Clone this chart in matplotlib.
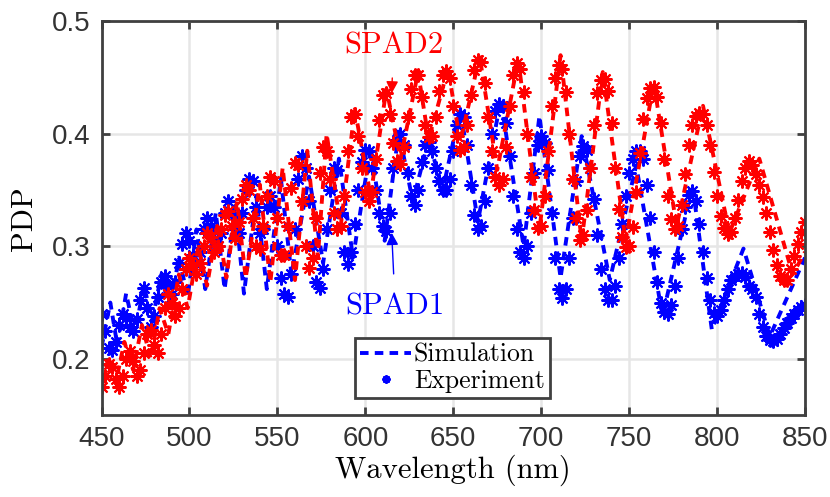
import matplotlib
matplotlib.use("Agg")
import matplotlib.pyplot as plt
import numpy as np

# measured PDP, sampled every 2 nm from 450 to 850 nm
wl_exp = np.arange(450, 852, 2)

spad1_exp = [
    0.240, 0.225, 0.210, 0.208, 0.215, 0.230, 0.240, 0.236, 0.228, 0.225,
    0.235, 0.252, 0.263, 0.245, 0.228, 0.238, 0.255, 0.268, 0.274, 0.265,
    0.258, 0.268, 0.285, 0.302, 0.312, 0.305, 0.292, 0.284, 0.295, 0.315,
    0.325, 0.318, 0.305, 0.300, 0.312, 0.330, 0.340, 0.330, 0.315, 0.312,
    0.330, 0.350, 0.360, 0.358, 0.335, 0.312, 0.315, 0.335, 0.345, 0.335,
    0.300, 0.272, 0.258, 0.255, 0.275, 0.315, 0.360, 0.380, 0.370, 0.340,
    0.300, 0.268, 0.263, 0.280, 0.315, 0.350, 0.370, 0.368, 0.330, 0.295,
    0.284, 0.295, 0.320, 0.350, 0.375, 0.386, 0.385, 0.370, 0.350, 0.330,
    0.318, 0.314, 0.330, 0.370, 0.395, 0.400, 0.390, 0.365, 0.345, 0.337,
    0.350, 0.375, 0.390, 0.393, 0.385, 0.370, 0.358, 0.350, 0.350, 0.360,
    0.385, 0.408, 0.418, 0.415, 0.390, 0.355, 0.328, 0.315, 0.318, 0.340,
    0.370, 0.400, 0.420, 0.427, 0.425, 0.410, 0.380, 0.345, 0.315, 0.295,
    0.290, 0.300, 0.330, 0.365, 0.390, 0.398, 0.392, 0.368, 0.330, 0.290,
    0.262, 0.254, 0.262, 0.290, 0.325, 0.358, 0.380, 0.389, 0.386, 0.370,
    0.342, 0.310, 0.280, 0.262, 0.252, 0.252, 0.265, 0.290, 0.320, 0.345,
    0.365, 0.378, 0.385, 0.385, 0.378, 0.355, 0.325, 0.295, 0.268, 0.250,
    0.242, 0.240, 0.248, 0.265, 0.290, 0.315, 0.335, 0.346, 0.349, 0.340,
    0.320, 0.295, 0.272, 0.252, 0.241, 0.238, 0.243, 0.252, 0.262, 0.270,
    0.274, 0.275, 0.276, 0.273, 0.265, 0.262, 0.255, 0.240, 0.228, 0.220,
    0.217, 0.216, 0.218, 0.222, 0.227, 0.232, 0.236, 0.240, 0.243, 0.246,
    0.248,
]

spad2_exp = [
    0.175, 0.185, 0.195, 0.193, 0.182, 0.175, 0.185, 0.200, 0.207, 0.198,
    0.185, 0.190, 0.205, 0.222, 0.226, 0.212, 0.205, 0.222, 0.245, 0.258,
    0.250, 0.238, 0.245, 0.262, 0.280, 0.290, 0.283, 0.275, 0.285, 0.300,
    0.312, 0.308, 0.295, 0.300, 0.315, 0.328, 0.331, 0.318, 0.307, 0.322,
    0.342, 0.355, 0.350, 0.325, 0.300, 0.298, 0.318, 0.345, 0.362, 0.358,
    0.325, 0.292, 0.292, 0.318, 0.352, 0.374, 0.372, 0.340, 0.300, 0.281,
    0.290, 0.325, 0.365, 0.388, 0.385, 0.360, 0.330, 0.315, 0.318, 0.345,
    0.385, 0.415, 0.418, 0.398, 0.370, 0.348, 0.340, 0.348, 0.378, 0.412,
    0.435, 0.436, 0.418, 0.392, 0.376, 0.373, 0.388, 0.415, 0.440, 0.452,
    0.452, 0.433, 0.408, 0.397, 0.398, 0.415, 0.438, 0.452, 0.456, 0.450,
    0.425, 0.398, 0.386, 0.388, 0.408, 0.435, 0.457, 0.466, 0.464, 0.445,
    0.415, 0.385, 0.362, 0.355, 0.360, 0.388, 0.425, 0.452, 0.463, 0.458,
    0.437, 0.400, 0.362, 0.332, 0.316, 0.318, 0.345, 0.385, 0.425, 0.450,
    0.461, 0.458, 0.437, 0.400, 0.360, 0.325, 0.306, 0.310, 0.332, 0.370,
    0.408, 0.436, 0.448, 0.449, 0.438, 0.410, 0.370, 0.333, 0.308, 0.299,
    0.300, 0.317, 0.348, 0.383, 0.413, 0.432, 0.441, 0.442, 0.433, 0.410,
    0.378, 0.345, 0.324, 0.315, 0.318, 0.337, 0.364, 0.390, 0.408, 0.416,
    0.419, 0.418, 0.408, 0.390, 0.366, 0.345, 0.327, 0.316, 0.311, 0.313,
    0.325, 0.341, 0.358, 0.370, 0.376, 0.372, 0.364, 0.355, 0.344, 0.330,
    0.313, 0.297, 0.283, 0.274, 0.270, 0.270, 0.280, 0.291, 0.302, 0.313,
    0.322,
]

# simulated PDP, turning points of each curve
spad1_sim_wl = [
    450, 455, 459, 464, 469, 474, 479, 484, 489, 494, 499, 504, 509, 515,
    520, 526, 531, 538, 544, 552, 558, 568, 576, 585, 593, 603, 611, 619,
    627, 636, 644, 654, 664, 677, 690, 699, 711, 723, 739, 754, 769, 786,
    797, 815, 830, 850,
]
spad1_sim = [
    0.210, 0.250, 0.212, 0.258, 0.222, 0.265, 0.235, 0.275, 0.245, 0.290,
    0.255, 0.315, 0.262, 0.330, 0.262, 0.336, 0.258, 0.345, 0.262, 0.360,
    0.275, 0.362, 0.285, 0.378, 0.290, 0.388, 0.305, 0.402, 0.340, 0.395,
    0.350, 0.422, 0.322, 0.430, 0.300, 0.416, 0.272, 0.398, 0.270, 0.372,
    0.238, 0.354, 0.226, 0.298, 0.220, 0.290,
]

spad2_sim_wl = [
    450, 454, 458, 463, 468, 473, 478, 483, 488, 494, 499, 505, 510, 516,
    521, 527, 532, 540, 546, 553, 560, 567, 573, 578, 586, 594, 603, 612,
    620, 630, 636, 647, 654, 665, 675, 687, 699, 711, 723, 735, 748, 764,
    777, 792, 807, 824, 843, 850,
]
spad2_sim = [
    0.180, 0.200, 0.178, 0.215, 0.190, 0.230, 0.200, 0.245, 0.222, 0.275,
    0.245, 0.300, 0.265, 0.320, 0.272, 0.340, 0.272, 0.355, 0.268, 0.370,
    0.270, 0.385, 0.290, 0.400, 0.318, 0.422, 0.345, 0.440, 0.378, 0.455,
    0.395, 0.458, 0.393, 0.469, 0.368, 0.466, 0.315, 0.470, 0.305, 0.455,
    0.305, 0.445, 0.318, 0.425, 0.312, 0.378, 0.275, 0.295,
]

x_ticks = [450, 500, 550, 600, 650, 700, 750, 800, 850]
y_ticks = [0.2, 0.3, 0.4, 0.5]

BLUE = "#0000ff"
RED = "#ff0000"
AXIS_GREY = "#404040"
SERIF = "cmr10"
SANS = "Liberation Sans"
STAR = (8, 2, 0)

fig = plt.figure(figsize=(8.30, 4.97), dpi=100)
ax = fig.add_axes([0.1223, 0.165, 0.8476, 0.7918])

dash = dict(ls=(0, (2.2, 1.6)), lw=2.8)
star = dict(ls="none", marker=STAR, ms=10, mew=1.5)

ax.plot(spad1_sim_wl, spad1_sim, color=BLUE, label="Simulation", **dash)
ax.plot(wl_exp, spad1_exp, color=BLUE, label="Experiment", **star)
ax.plot(spad2_sim_wl, spad2_sim, color=RED, **dash)
ax.plot(wl_exp, spad2_exp, color=RED, **star)

ax.set_xlim(450, 850)
ax.set_ylim(0.15, 0.5)
ax.set_xticks(x_ticks)
ax.set_yticks(y_ticks)
ax.set_xticklabels([str(t) for t in x_ticks])
ax.set_yticklabels([f"{t:.1f}" for t in y_ticks])
ax.grid(True, color="#e6e6e6", lw=1.8)
ax.set_axisbelow(True)

for s in ax.spines.values():
    s.set_color(AXIS_GREY)
    s.set_linewidth(2)
ax.tick_params(direction="in", length=6, width=2, color=AXIS_GREY,
               top=True, right=True, labelsize=20, labelcolor="#333333",
               pad=8)
for lab in ax.get_xticklabels() + ax.get_yticklabels():
    lab.set_fontfamily(SANS)

ax.set_xlabel("Wavelength (nm)", fontfamily=SERIF, fontsize=22, labelpad=2)
ax.set_ylabel("PDP", fontfamily=SERIF, fontsize=22, labelpad=10)

# labels pointing at the two devices
ax.annotate("SPAD2", xy=(615, 0.436), xytext=(616, 0.478), color=RED,
            fontfamily=SERIF, fontsize=22, ha="center", va="center",
            arrowprops=dict(arrowstyle="-|>", color=RED, lw=1,
                            mutation_scale=18, shrinkA=11, shrinkB=0))
ax.annotate("SPAD1", xy=(615, 0.312), xytext=(617, 0.246), color=BLUE,
            fontfamily=SERIF, fontsize=22, ha="center", va="center",
            arrowprops=dict(arrowstyle="-|>", color=BLUE, lw=1,
                            mutation_scale=18, shrinkA=12, shrinkB=0))

leg = ax.legend(loc="lower left", bbox_to_anchor=(0.36, 0.043),
                borderaxespad=0, prop={"family": SERIF, "size": 18.5},
                handlelength=2.0, handletextpad=0.1, borderpad=0.2,
                labelspacing=0.1, fancybox=False, framealpha=1,
                markerscale=0.6)
leg.get_frame().set_edgecolor(AXIS_GREY)
leg.get_frame().set_linewidth(2)

fig.savefig("out.png", dpi=100)
